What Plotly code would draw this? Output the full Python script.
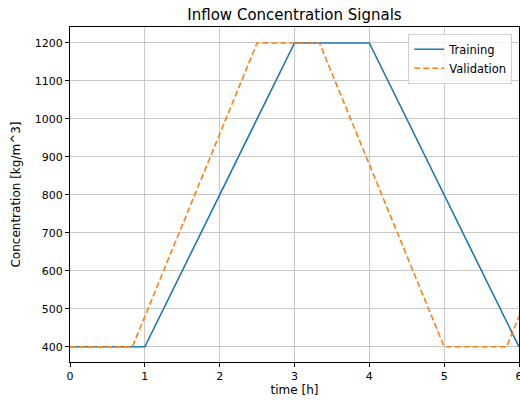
import plotly.graph_objects as go

train_t = [0, 1, 3, 4, 6]
train_c = [400, 400, 1200, 1200, 400]
val_t = [0, 0.8333, 2.5, 3.3333, 5, 5.8333, 6]
val_c = [400, 400, 1200, 1200, 400, 400, 480]
x_ticks = [0, 1, 2, 3, 4, 5, 6]
y_ticks = [400, 500, 600, 700, 800, 900, 1000, 1100, 1200]

font = "DejaVu Sans"
fig = go.Figure()
fig.add_trace(go.Scatter(x=train_t, y=train_c, mode="lines", name="Training",
                         line=dict(color="#1f77b4", width=1.6)))
fig.add_trace(go.Scatter(x=val_t, y=val_c, mode="lines", name="Validation",
                         line=dict(color="#ff7f0e", width=1.6, dash="6px,3px")))

axis_common = dict(showline=True, linecolor="black", linewidth=1, mirror=True,
                   ticks="outside", ticklen=4, tickcolor="black",
                   showgrid=True, gridcolor="#c8c8c8", gridwidth=1,
                   zeroline=False, ticklabeloverflow="allow", automargin=False,
                   tickfont=dict(family=font, size=11, color="black"))
fig.update_layout(
    width=520, height=404,
    margin=dict(l=70, r=1, t=27, b=42),
    plot_bgcolor="white", paper_bgcolor="white",
    title=dict(text="Inflow Concentration Signals", x=0.5, xanchor="center",
               xref="paper", y=1 - 15 / 404, yanchor="middle",
               font=dict(family=font, size=15, color="black")),
    xaxis=dict(range=[0, 6], tickvals=x_ticks,
               title=dict(text="time [h]", font=dict(family=font, size=12, color="black"), standoff=3),
               **axis_common),
    yaxis=dict(range=[360, 1242], tickvals=y_ticks,
               title=dict(text="Concentration [kg/m^3]", font=dict(family=font, size=12, color="black"), standoff=11),
               **axis_common),
    legend=dict(x=0.985, y=0.98, xanchor="right", yanchor="top",
                bgcolor="rgba(255,255,255,0.8)", bordercolor="#d0d0d0", borderwidth=1,
                font=dict(family=font, size=11.5, color="black"), tracegroupgap=0,
                itemwidth=30),
    showlegend=True,
)
fig.write_html("out.html")
